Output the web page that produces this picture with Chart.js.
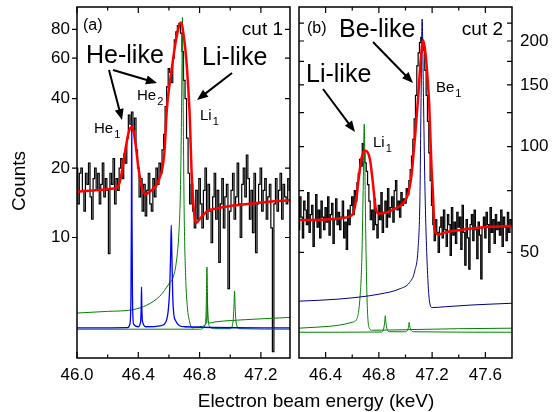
<!DOCTYPE html>
<html>
<head>
<meta charset="utf-8">
<script src="https://cdn.jsdelivr.net/npm/chart.js@4.4.0/dist/chart.umd.min.js"></script>
<style>
  html, body { margin: 0; padding: 0; background: #fff; }
  #wrap { position: relative; width: 559px; height: 412px; }
  #wrap canvas { position: absolute; left: 0; top: 0; }
</style>
</head>
<body>
<div id="wrap">
  <canvas id="cutA" width="559" height="412"></canvas>
  <canvas id="cutB" width="559" height="412"></canvas>
</div>
<script>
// ---- cut 1 (panel a) ----
// measured counts, 0.01 keV bins from 46.00 keV
const binStartA = 46.00;
const binWidthA = 0.01;
const countsA = [
  20, 14, 19, 20, 16, 13, 19, 17, 21, 15,
  12, 18, 20, 16, 19, 14, 17, 21, 15, 18,
  16, 8.5, 19, 17, 22, 14, 18, 16, 20, 22,
  18, 23, 21, 27, 34, 31, 35, 29, 33, 24,
  20, 15, 18, 13, 17, 12.4, 16, 19, 14, 13,
  18, 15, 20, 17, 21, 19, 24, 28, 37, 45,
  54, 52, 47, 60, 72, 78, 83, 85, 77, 64,
  48, 40, 27, 19, 14, 17, 13, 11, 16, 12,
  18, 14, 11, 16, 20, 12, 17, 13, 9.5, 15,
  19, 12, 16, 7.8, 14, 18, 11, 15, 17, 6,
  13, 16, 19, 12, 15, 21, 14, 10, 17, 20,
  15, 22.8, 18, 12, 16, 10.5, 19, 8.6, 14, 17,
  20, 13, 16, 18, 12, 15, 17, 11, 3.2, 14,
  18, 13, 16, 19, 12, 17, 15, 14, 18, 16
];
// fit (red)
const fitEA = [46.00, 46.10, 46.20, 46.26, 46.28, 46.30, 46.32, 46.34, 46.36, 46.38, 46.40, 46.42, 46.445, 46.48, 46.53, 46.57, 46.586, 46.60, 46.62, 46.64, 46.66, 46.678, 46.70, 46.717, 46.734, 46.75, 46.77, 46.78, 46.80, 46.85, 46.92, 47.00, 47.13, 47.25, 47.39];
const fitCA = [15.8, 16.0, 16.2, 16.5, 17.5, 20.5, 25.0, 29.0, 30.2, 26.0, 20.3, 16.8, 15.4, 15.9, 17.5, 23.2, 35.7, 44, 55, 68, 80, 85.6, 72, 55, 35.7, 17.8, 12.0, 11.6, 12.0, 13.0, 13.4, 13.7, 14.0, 14.3, 14.5];
// He-like lines (blue)
const heEA = [46.00, 46.33, 46.345, 46.352, 46.355, 46.357, 46.359, 46.362, 46.37, 46.40, 46.415, 46.419, 46.421, 46.423, 46.428, 46.45, 46.55, 46.58, 46.595, 46.605, 46.611, 46.615, 46.619, 46.625, 46.64, 46.70, 47.39];
const heCA = [4.05, 4.06, 4.2, 5.5, 12, 32, 12, 5.5, 4.2, 4.1, 4.3, 5.0, 6.1, 5.0, 4.3, 4.1, 4.15, 4.3, 4.8, 6.0, 8.5, 11.3, 8.5, 5.5, 4.4, 4.1, 4.05];
// Li1 line (green, broad)
const li1EA = [46.00, 46.20, 46.37, 46.54, 46.60, 46.63, 46.65, 46.665, 46.675, 46.681, 46.685, 46.688, 46.691, 46.695, 46.70, 46.71, 46.72, 46.735, 46.75, 46.80, 46.84, 46.847, 46.85, 46.853, 46.86, 46.90, 47.10, 47.39];
const li1CA = [4.70, 4.78, 4.87, 5.56, 6.3, 6.8, 8.0, 10.5, 16, 30, 55, 90, 55, 25, 12, 6.5, 5.0, 4.3, 4.05, 4.1, 4.2, 4.6, 5.65, 4.6, 4.25, 4.3, 4.4, 4.5];
// other Li-like lines (green)
const liEA = [46.00, 46.80, 46.835, 46.843, 46.848, 46.853, 46.862, 46.90, 47.00, 47.018, 47.024, 47.028, 47.032, 47.038, 47.06, 47.39];
const liCA = [4.0, 4.0, 4.15, 4.9, 7.45, 4.9, 4.15, 4.02, 4.02, 4.3, 5.0, 5.85, 5.0, 4.3, 4.02, 4.0];

const xTicksA = [46.0, 46.4, 46.8, 47.2];
const xMinorA = [46.2, 46.6, 47.0];
const yTicksA = [10, 20, 40, 60, 80];

// ---- cut 2 (panel b) ----
const binStartB = 46.20;
const binWidthB = 0.01;
const countsB = [
  58, 72, 63, 55, 70, 66, 60, 74, 57, 64,
  68, 52, 62, 73, 59, 66, 55, 70, 63, 58,
  67, 61, 72, 56, 64, 69, 53, 62, 71, 60,
  65, 58, 63, 70, 55, 61, 51, 66, 60, 68,
  72, 64, 75, 70, 79, 84, 92, 88, 102, 96,
  90, 85, 78, 70, 62, 66, 58, 71, 60, 55,
  68, 62, 74, 57, 65, 70, 59, 76, 63, 67,
  72, 61, 75, 80, 66, 70, 63, 74, 68, 71,
  69, 76, 73, 80, 86, 94, 105, 120, 140, 170,
  185, 198, 205, 200, 188, 165, 140, 118, 96, 80,
  68, 60, 54, 62, 57, 50, 59, 63, 55, 66,
  58, 52, 64, 60, 49, 67, 56, 61, 53, 65,
  59, 63, 51, 68, 57, 46, 62, 55, 44.8, 60,
  64, 54, 66, 58, 48, 61, 56, 42, 59, 63,
  55, 65, 60, 50, 67, 57, 62, 53, 64, 58,
  61, 56, 66, 52, 63, 59, 54, 65, 57, 62, 60
];
const fitEB = [46.20, 46.40, 46.55, 46.59, 46.61, 46.63, 46.65, 46.67, 46.70, 46.733, 46.758, 46.775, 46.80, 46.83, 46.90, 46.98, 47.02, 47.045, 47.07, 47.095, 47.115, 47.133, 47.15, 47.165, 47.178, 47.195, 47.205, 47.22, 47.245, 47.30, 47.383, 47.50, 47.65, 47.80];
const fitCB = [61.7, 62.0, 62.8, 63.5, 65, 71, 82, 93, 97.4, 92, 77, 67, 64.5, 64.6, 66, 68.9, 73.5, 83, 105, 138, 178, 201, 185, 158, 132, 88, 75, 57.7, 56.2, 57, 57.7, 58.5, 59.1, 59.4];
// Be1 line (dark blue)
const beEB = [46.20, 46.50, 46.80, 46.96, 47.03, 47.07, 47.095, 47.108, 47.117, 47.125, 47.135, 47.145, 47.158, 47.18, 47.20, 47.30, 47.50, 47.80];
const beCB = [36.3, 36.8, 38.0, 39.4, 41.0, 44.3, 51.7, 70, 138, 231, 138, 80, 51.7, 36.3, 34.8, 35.0, 35.4, 35.8];
// Li1 line (green)
const li1EB = [46.20, 46.50, 46.60, 46.633, 46.658, 46.672, 46.682, 46.69, 46.697, 46.703, 46.712, 46.725, 46.75, 47.00, 47.40, 47.80];
const li1CB = [30.4, 31.0, 31.6, 32.2, 37.1, 48, 75, 116, 75, 51.7, 36, 30.6, 30.0, 30.1, 30.3, 30.4];
// other Li-like lines (green)
const liEB = [46.20, 46.82, 46.835, 46.843, 46.848, 46.853, 46.862, 46.88, 47.00, 47.018, 47.024, 47.027, 47.031, 47.038, 47.06, 47.80];
const liCB = [29.6, 29.65, 30.2, 31.5, 33.0, 31.5, 30.2, 29.7, 29.7, 30.2, 30.9, 31.6, 30.9, 30.2, 29.7, 29.6];

const xTicksB = [46.4, 46.8, 47.2, 47.6];
const xMinorB = [46.6, 47.0, 47.4];
const yTicksB = [50, 100, 150, 200];
const yMinorB = [75, 125, 175, 225];

const FONT = "'Liberation Sans', Arial, Helvetica, sans-serif";

function pts(E, C) { return E.map((e, i) => ({ x: e, y: C[i] })); }
function binned(start, width, C) { return C.map((c, i) => ({ x: +(start + i * width).toFixed(3), y: c })); }

function curve(data, color, width) {
  return { data, borderColor: color, borderWidth: width, pointRadius: 0, fill: false, cubicInterpolationMode: 'monotone' };
}
function counts(data) {
  return { data, borderColor: '#000', borderWidth: 1.2, pointRadius: 0, fill: false, stepped: 'middle' };
}

function drawArrow(ctx, x1, y1, x2, y2) {
  const a = Math.atan2(y2 - y1, x2 - x1);
  const head = 11, half = 4.5;
  const c = Math.cos(a), s = Math.sin(a);
  ctx.beginPath();
  ctx.moveTo(x1, y1);
  ctx.lineTo(x2 - c * head * 0.8, y2 - s * head * 0.8);
  ctx.stroke();
  ctx.beginPath();
  ctx.moveTo(x2, y2);
  ctx.lineTo(x2 - c * head + s * half, y2 - s * head - c * half);
  ctx.lineTo(x2 - c * head - s * half, y2 - s * head + c * half);
  ctx.closePath();
  ctx.fill();
}

function drawLabel(ctx, t) {
  ctx.font = t.size + 'px ' + FONT;
  ctx.textAlign = t.align || 'left';
  ctx.textBaseline = 'alphabetic';
  ctx.fillText(t.text, t.x, t.y);
  if (t.sub) {
    const w = ctx.measureText(t.text).width;
    ctx.font = Math.round(t.size * 0.72) + 'px ' + FONT;
    ctx.textAlign = 'left';
    ctx.fillText(t.sub, t.x + w + 1, t.y + t.size * 0.32);
  }
}

// frame, mirrored ticks, labels and arrows
function decor(cfg) {
  return {
    id: 'decor',
    afterDraw(chart) {
      const { ctx, chartArea: a, scales: { x, y } } = chart;
      ctx.save();
      ctx.strokeStyle = '#000';
      ctx.fillStyle = '#000';
      ctx.lineWidth = 1.5;
      ctx.strokeRect(a.left, a.top, a.right - a.left, a.bottom - a.top);
      ctx.lineWidth = 1.2;
      ctx.beginPath();
      const xt = (list, len) => list.forEach(v => {
        const p = x.getPixelForValue(v);
        ctx.moveTo(p, a.bottom); ctx.lineTo(p, a.bottom - len);
        ctx.moveTo(p, a.top); ctx.lineTo(p, a.top + len);
      });
      const yt = (list, len) => list.forEach(v => {
        const p = y.getPixelForValue(v);
        ctx.moveTo(a.left, p); ctx.lineTo(a.left + (cfg.leftOut ? -len : len), p);
        ctx.moveTo(a.right, p); ctx.lineTo(a.right - len, p);
      });
      xt(cfg.xMajor, 6); xt(cfg.xMinor, 3.5);
      yt(cfg.yMajor, 5); yt(cfg.yMinor || [], 5);
      ctx.stroke();
      ctx.lineWidth = 2;
      cfg.arrows.forEach(r => drawArrow(ctx, r[0], r[1], r[2], r[3]));
      cfg.labels.forEach(t => drawLabel(ctx, t));
      if (cfg.titles) {
        ctx.font = '19px ' + FONT;
        ctx.textAlign = 'center';
        ctx.textBaseline = 'middle';
        ctx.fillText('Electron beam energy (keV)', 316, 402);
        ctx.translate(20, 181);
        ctx.rotate(-Math.PI / 2);
        ctx.fillText('Counts', 0, 0);
      }
      ctx.restore();
    }
  };
}

function axisX(min, max, ticks, h) {
  return {
    type: 'linear', min, max,
    grid: { display: false, drawTicks: false },
    border: { display: false },
    afterBuildTicks: s => { s.ticks = ticks.map(v => ({ value: v })); },
    ticks: { font: { family: FONT, size: 17 }, color: '#000', padding: 7, maxRotation: 0, autoSkip: false, callback: v => Number(v).toFixed(1) },
    afterFit: s => { s.height = h; s.paddingLeft = 0; s.paddingRight = 0; }
  };
}
function axisY(min, max, ticks, pos, w, pad) {
  return {
    type: 'logarithmic', min, max, position: pos,
    grid: { display: false, drawTicks: false },
    border: { display: false },
    afterBuildTicks: s => { s.ticks = ticks.map(v => ({ value: v })); },
    ticks: { font: { family: FONT, size: 17 }, color: '#000', padding: pad, autoSkip: false, callback: v => String(v) },
    afterFit: s => { s.width = w; s.paddingTop = 0; s.paddingBottom = 0; }
  };
}

const common = {
  responsive: false,
  animation: false,
  events: [],
  plugins: { legend: { display: false }, tooltip: { enabled: false } }
};

new Chart(document.getElementById('cutA'), {
  type: 'line',
  data: {
    datasets: [
      curve(pts(fitEA, fitCA), '#ff0000', 2.5),
      curve(pts(heEA, heCA), '#0000ff', 1.3),
      curve(pts(li1EA, li1CA), '#008000', 1),
      curve(pts(liEA, liCA), '#008000', 1),
      counts(binned(binStartA, binWidthA, countsA))
    ]
  },
  options: Object.assign({}, common, {
    layout: { padding: { top: 7, right: 269, left: 0, bottom: 0 } },
    scales: {
      x: axisX(46.0, 47.39, xTicksA, 54),
      y: axisY(3, 100, yTicksA, 'left', 77, 7)
    }
  }),
  plugins: [decor({
    leftOut: true, titles: true,
    xMajor: xTicksA, xMinor: xMinorA, yMajor: yTicksA,
    arrows: [[109, 70, 122, 120], [113, 70, 157, 83], [232, 73, 197, 100]],
    labels: [
      { text: '(a)', x: 83, y: 30, size: 16 },
      { text: 'cut 1', x: 283, y: 35, size: 19, align: 'right' },
      { text: 'He-like', x: 86, y: 63, size: 25 },
      { text: 'Li-like', x: 202, y: 65, size: 25 },
      { text: 'He', sub: '1', x: 94, y: 133, size: 15 },
      { text: 'He', sub: '2', x: 137, y: 100, size: 15 },
      { text: 'Li', sub: '1', x: 200, y: 120, size: 15 }
    ]
  })]
});

new Chart(document.getElementById('cutB'), {
  type: 'line',
  data: {
    datasets: [
      curve(pts(fitEB, fitCB), '#ff0000', 2.5),
      curve(pts(beEB, beCB), '#000080', 1),
      curve(pts(li1EB, li1CB), '#008000', 1),
      curve(pts(liEB, liCB), '#008000', 1),
      counts(binned(binStartB, binWidthB, countsB))
    ]
  },
  options: Object.assign({}, common, {
    layout: { padding: { top: 7, right: 0, left: 299, bottom: 0 } },
    scales: {
      x: axisX(46.2, 47.8, xTicksB, 54),
      y: axisY(25, 250, yTicksB, 'right', 47, 8)
    }
  }),
  plugins: [decor({
    leftOut: false, titles: false,
    xMajor: xTicksB, xMinor: xMinorB, yMajor: yTicksB, yMinor: yMinorB,
    arrows: [[373, 42, 413, 83], [323, 89, 355, 132]],
    labels: [
      { text: '(b)', x: 307, y: 33, size: 16 },
      { text: 'Be-like', x: 339, y: 37, size: 25 },
      { text: 'cut 2', x: 503, y: 35, size: 19, align: 'right' },
      { text: 'Li-like', x: 306, y: 82, size: 25 },
      { text: 'Be', sub: '1', x: 436, y: 92, size: 15 },
      { text: 'Li', sub: '1', x: 373, y: 147, size: 15 }
    ]
  })]
});
</script>
</body>
</html>
